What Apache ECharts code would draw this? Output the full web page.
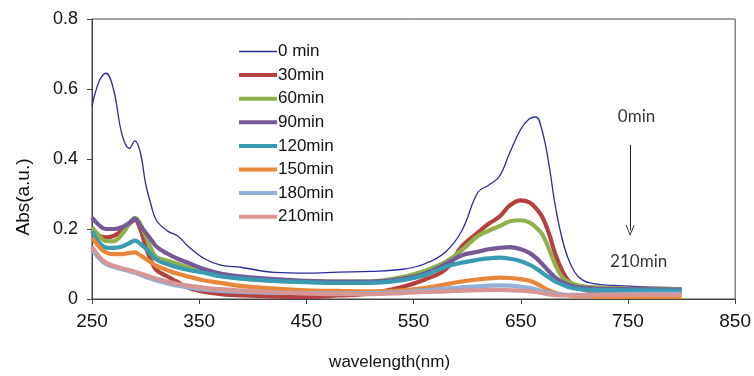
<!DOCTYPE html>
<html>
<head>
<meta charset="utf-8">
<script src="https://cdn.jsdelivr.net/npm/echarts@6/dist/echarts.min.js"></script>
<style>
  html, body { margin: 0; padding: 0; background: #fff; }
  #chart { width: 754px; height: 376px; }
</style>
</head>
<body>
<div id="chart"></div>
<script>
const wavelengths = [250, 257, 263, 270, 278, 285, 290, 295, 300, 305, 310, 320, 330, 340, 355, 370, 390, 420, 450, 480, 510, 540, 560, 580, 595, 610, 620, 630, 640, 650, 658, 664, 670, 676, 682, 688, 695, 705, 720, 750, 800];

const abs0 = [0.55, 0.625, 0.645, 0.6, 0.47, 0.43, 0.452, 0.42, 0.33, 0.27, 0.225, 0.195, 0.18, 0.15, 0.115, 0.097, 0.09, 0.076, 0.074, 0.077, 0.079, 0.085, 0.1, 0.135, 0.195, 0.305, 0.325, 0.35, 0.42, 0.485, 0.515, 0.52, 0.48, 0.39, 0.27, 0.18, 0.11, 0.06, 0.043, 0.037, 0.032];
const abs30 = [0.19, 0.18, 0.176, 0.18, 0.195, 0.215, 0.226, 0.2, 0.15, 0.11, 0.083, 0.065, 0.048, 0.032, 0.02, 0.014, 0.01, 0.007, 0.006, 0.01, 0.016, 0.035, 0.055, 0.085, 0.15, 0.19, 0.215, 0.235, 0.268, 0.282, 0.276, 0.26, 0.235, 0.19, 0.13, 0.085, 0.05, 0.03, 0.022, 0.02, 0.018];
const abs60 = [0.205, 0.18, 0.165, 0.165, 0.185, 0.215, 0.232, 0.215, 0.18, 0.145, 0.12, 0.11, 0.1, 0.09, 0.077, 0.066, 0.058, 0.052, 0.05, 0.05, 0.05, 0.063, 0.08, 0.106, 0.14, 0.18, 0.195, 0.208, 0.222, 0.225, 0.219, 0.205, 0.185, 0.145, 0.1, 0.065, 0.048, 0.038, 0.033, 0.03, 0.028];
const abs90 = [0.233, 0.21, 0.2, 0.2, 0.205, 0.218, 0.23, 0.21, 0.19, 0.17, 0.15, 0.13, 0.115, 0.103, 0.085, 0.073, 0.064, 0.057, 0.052, 0.05, 0.05, 0.058, 0.072, 0.1, 0.125, 0.135, 0.142, 0.146, 0.148, 0.142, 0.132, 0.118, 0.1, 0.08, 0.062, 0.05, 0.04, 0.033, 0.03, 0.028, 0.027];
const abs120 = [0.195, 0.16, 0.147, 0.146, 0.15, 0.16, 0.167, 0.158, 0.145, 0.128, 0.113, 0.1, 0.09, 0.083, 0.075, 0.065, 0.058, 0.052, 0.048, 0.046, 0.046, 0.054, 0.068, 0.092, 0.104, 0.112, 0.116, 0.118, 0.115, 0.108, 0.098, 0.088, 0.075, 0.062, 0.05, 0.042, 0.034, 0.028, 0.026, 0.025, 0.024];
const abs150 = [0.175, 0.148, 0.133, 0.128, 0.128, 0.132, 0.133, 0.125, 0.115, 0.105, 0.095, 0.083, 0.072, 0.064, 0.053, 0.046, 0.037, 0.03, 0.025, 0.023, 0.022, 0.025, 0.031, 0.042, 0.05, 0.056, 0.059, 0.061, 0.06, 0.057, 0.052, 0.045, 0.035, 0.025, 0.018, 0.013, 0.01, 0.008, 0.007, 0.006, 0.006];
const abs180 = [0.14, 0.115, 0.1, 0.092, 0.085, 0.079, 0.075, 0.069, 0.063, 0.058, 0.053, 0.045, 0.038, 0.033, 0.027, 0.023, 0.02, 0.018, 0.017, 0.016, 0.017, 0.02, 0.025, 0.03, 0.033, 0.036, 0.038, 0.039, 0.038, 0.035, 0.032, 0.028, 0.022, 0.018, 0.015, 0.013, 0.012, 0.012, 0.013, 0.014, 0.015];
const abs210 = [0.15, 0.12, 0.104, 0.095, 0.088, 0.082, 0.078, 0.073, 0.068, 0.063, 0.058, 0.05, 0.043, 0.038, 0.032, 0.028, 0.024, 0.02, 0.016, 0.014, 0.014, 0.017, 0.02, 0.022, 0.024, 0.025, 0.026, 0.026, 0.025, 0.024, 0.022, 0.02, 0.017, 0.013, 0.011, 0.01, 0.01, 0.01, 0.011, 0.012, 0.012];

const seriesNames = ["0 min", "30min", "60min", "90min", "120min", "150min", "180min", "210min"];
const seriesValues = [abs0, abs30, abs60, abs90, abs120, abs150, abs180, abs210];
const seriesColors = ["#2a2aa0", "#b4413d", "#8fb04a", "#765896", "#3a9ab2", "#e8873a", "#92afd8", "#d79594"];

// annotation: "0min" -> arrow -> "210min"
const noteTexts = ["0min", "210min"];
const noteX = [758, 760];
const noteY = [0.52, 0.106];
const arrowX = 752;
const arrowFrom = 0.44;
const arrowTo = 0.196;

const FONT = "Liberation Sans";
const THIN_ICON = "path://M0,0 H38 V1.3 H0 Z";
const THICK_ICON = "path://M0,0 H38 V4 H0 Z";

const chart = echarts.init(document.getElementById("chart"));

const lineSeries = seriesNames.map((name, i) => ({
  name,
  type: "line",
  data: wavelengths.map((w, j) => [w, seriesValues[i][j]]),
  smooth: 0.4,
  symbol: "none",
  color: seriesColors[i],
  lineStyle: { width: i === 0 ? 1.3 : 4.2, color: seriesColors[i] },
  z: 2,
}));

chart.setOption({
  animation: false,
  grid: {
    left: 92,
    right: 14,
    top: 19,
    bottom: 71,
    show: true,
    borderColor: "#444",
    borderWidth: 1,
  },
  legend: {
    data: seriesNames.map((name, i) => ({
      name,
      icon: i === 0 ? THIN_ICON : THICK_ICON,
    })),
    orient: "vertical",
    left: 234,
    top: 38,
    itemWidth: 38,
    itemHeight: 4,
    itemGap: 6.6,
    textStyle: {
      fontFamily: FONT,
      fontSize: 17,
      color: "#111",
      padding: [0, 0, 0, -4],
    },
  },
  xAxis: {
    type: "value",
    min: 250,
    max: 850,
    interval: 100,
    name: "wavelength(nm)",
    nameLocation: "middle",
    nameGap: 55,
    nameTextStyle: {
      fontFamily: FONT,
      fontSize: 17,
      color: "#111",
      padding: [0, 48, 0, 0],
    },
    axisLine: { lineStyle: { color: "#444" } },
    axisTick: { length: 5, lineStyle: { color: "#444" } },
    axisLabel: { fontFamily: FONT, fontSize: 19, color: "#111", margin: 13 },
    splitLine: { show: false },
  },
  yAxis: {
    type: "value",
    min: 0,
    max: 0.8,
    interval: 0.2,
    name: "Abs(a.u.)",
    nameLocation: "middle",
    nameGap: 59,
    nameTextStyle: {
      fontFamily: FONT,
      fontSize: 19,
      color: "#111",
      padding: [0, 76, 0, 0],
    },
    axisLine: { show: true, lineStyle: { color: "#444" } },
    axisTick: { show: true, length: 5, lineStyle: { color: "#444" } },
    axisLabel: { fontFamily: FONT, fontSize: 18, color: "#111", margin: 14 },
    splitLine: { show: false },
  },
  series: [
    ...lineSeries,
    {
      name: "notes",
      type: "scatter",
      symbolSize: 1,
      itemStyle: { color: "rgba(0,0,0,0)" },
      data: noteTexts.map((t, i) => ({ name: t, value: [noteX[i], noteY[i]] })),
      label: {
        show: true,
        position: "inside",
        formatter: "{b}",
        fontFamily: "Lato",
        fontSize: 17,
        color: "#000",
      },
      markLine: {
        silent: true,
        symbol: ["none", "path://M0,10 L5,0 L10,10 L9,10 L5,2 L1,10 Z"],
        symbolSize: [9, 11],
        label: { show: false },
        lineStyle: { color: "#222", width: 1, type: "solid" },
        data: [[{ coord: [arrowX, arrowFrom] }, { coord: [arrowX, arrowTo] }]],
      },
      z: 3,
    },
  ],
});
</script>
</body>
</html>
